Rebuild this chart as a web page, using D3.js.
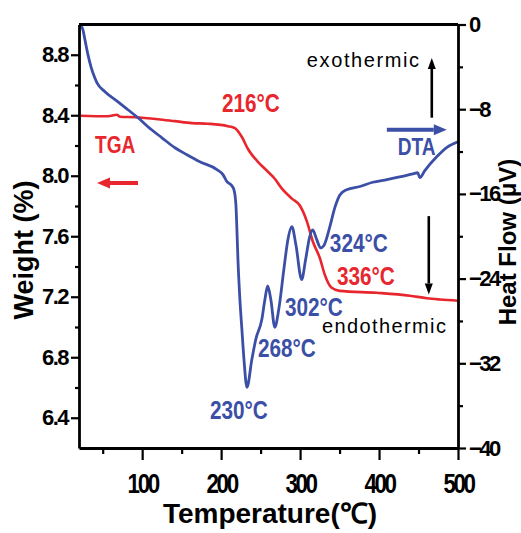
<!DOCTYPE html>
<html>
<head>
<meta charset="utf-8">
<script src="https://cdn.jsdelivr.net/npm/d3@7"></script>
<style>
  body { margin: 0; background: #fff; }
  svg { display: block; font-family: "Liberation Sans", Arial, sans-serif; }
</style>
</head>
<body>
<svg id="chart" width="521" height="533"></svg>
<script>
// TGA / DTA curves

const tgaTemp = [21, 56.7, 68, 72, 91, 120, 141.5, 163, 183, 208.6, 217.5, 226.3, 234, 246.6, 255.4,
  268, 277, 289.6, 299.7, 308.6, 316, 325, 331.4, 340, 350, 397, 439, 460.5, 477, 500];
const tgaWeight = [8.397, 8.393, 8.403, 8.39, 8.387, 8.374, 8.361, 8.348, 8.344, 8.328, 8.315, 8.256, 8.177, 8.092, 8.046,
  7.98, 7.915, 7.849, 7.803, 7.698, 7.567, 7.456, 7.344, 7.259, 7.239, 7.226, 7.207, 7.19, 7.182, 7.174];

const dtaTemp = [21.5, 25, 27.6, 31.4, 35.2, 39, 42.8, 52.9, 69.4, 82, 94.7, 107.3, 125, 141.5, 156.7,
  173, 194.7, 202.3, 207.3, 212.4, 216.2, 218.7, 220, 221.3, 223.8, 226.3, 228.9, 232.7, 239, 244,
  251.6, 255.4, 259, 263, 268, 273, 279.5, 284.6, 289.6, 294.7, 302, 307, 312, 316, 321,
  326, 330, 337.7, 344, 350.4, 359, 375.7, 392, 410, 426, 443, 449, 451.6, 458, 473, 486, 500];
const dtaHeat = [0, -0.5, -1.46, -2.87, -4.0, -4.85, -5.51, -6.36, -7.3, -8.05, -8.81, -9.66, -10.7, -11.64, -12.3,
  -12.96, -13.7, -14.18, -14.84, -15.13, -15.6, -17.0, -19.4, -22.2, -26, -28.8, -31.6, -34.26, -31.6, -29.7,
  -27.85, -26, -24.7, -26, -28.6, -26.9, -23.1, -20.3, -19.1, -20.8, -24.1, -22.2, -20.1, -19.4, -20.3,
  -21.1, -20.9, -19.1, -17.3, -16.1, -15.6, -15.3, -14.9, -14.65, -14.4, -14.1, -14.0, -14.47, -13.8, -12.5, -11.6, -11.07];

const tempTicks = [100, 200, 300, 400, 500];
const tempMinor = [50, 150, 250, 350, 450];
const weightTicks = [6.4, 6.8, 7.2, 7.6, 8.0, 8.4, 8.8];
const weightMinor = [6.6, 7.0, 7.4, 7.8, 8.2, 8.6];
const heatTicks = [-40, -32, -24, -16, -8, 0];
const heatMinor = [-36, -28, -20, -12, -4];

// peak labels: text, temperature / value where the label starts
const tgaLabels = [
  { text: "216", temp: 201, weight: 8.42 },
  { text: "336", temp: 346.6, weight: 7.278 }
];
const dtaLabels = [
  { text: "230", temp: 185.8, heat: -37.27 },
  { text: "268", temp: 246.6, heat: -31.4 },
  { text: "302", temp: 280.8, heat: -27.57 },
  { text: "324", temp: 337.7, heat: -21.5 }
];

const red = "#e8262d";
const blue = "#3c4fa6";

const margin = { top: 24.5, right: 63, bottom: 85, left: 79 };
const width = 521, height = 533;

const svg = d3.select("#chart");

const x = d3.scaleLinear().domain([20, 500]).range([margin.left, width - margin.right]);
const yW = d3.scaleLinear().domain([6.2, 9.0]).range([height - margin.bottom, margin.top]);
const yH = d3.scaleLinear().domain([-40, 0]).range([height - margin.bottom, margin.top]);

const bottomY = height - margin.bottom;
const rightX = width - margin.right;

// curves
const tga = tgaTemp.map((t, i) => [t, tgaWeight[i]]);
const dta = dtaTemp.map((t, i) => [t, dtaHeat[i]]);

svg.append("path")
  .datum(tga)
  .attr("fill", "none")
  .attr("stroke", red)
  .attr("stroke-width", 2.6)
  .attr("d", d3.line().x(d => x(d[0])).y(d => yW(d[1])).curve(d3.curveMonotoneX));

svg.append("path")
  .datum(dta)
  .attr("fill", "none")
  .attr("stroke", blue)
  .attr("stroke-width", 2.8)
  .attr("d", d3.line().x(d => x(d[0])).y(d => yH(d[1])).curve(d3.curveMonotoneX));

// axes
function styleAxis(g, fontSize) {
  g.select(".domain").attr("stroke-width", 2.8);
  g.selectAll(".tick line").attr("stroke-width", 2.2);
  g.selectAll(".tick text")
    .attr("font-size", fontSize)
    .attr("font-weight", "bold")
    .attr("fill", "#000");
}

function minor(g) {
  g.select(".domain").remove();
  g.selectAll(".tick line").attr("stroke-width", 2.2);
}

svg.append("g")
  .attr("transform", `translate(0,${bottomY})`)
  .call(d3.axisBottom(x).tickValues(tempMinor).tickSize(6).tickFormat(""))
  .call(minor);
svg.append("g")
  .attr("transform", `translate(${margin.left},0)`)
  .call(d3.axisLeft(yW).tickValues(weightMinor).tickSize(4).tickFormat(""))
  .call(minor);
svg.append("g")
  .attr("transform", `translate(${rightX},0)`)
  .call(d3.axisRight(yH).tickValues(heatMinor).tickSize(5).tickFormat(""))
  .call(minor);

svg.append("g")
  .attr("transform", `translate(0,${bottomY})`)
  .call(d3.axisBottom(x).tickValues(tempTicks).tickSize(12).tickSizeOuter(0).tickPadding(13).tickFormat(d3.format("d")))
  .call(g => styleAxis(g, 28))
  .call(g => g.selectAll(".tick text").attr("letter-spacing", -3).attr("transform", "scale(0.8,1)"));

svg.append("g")
  .attr("transform", `translate(${margin.left},0)`)
  .call(d3.axisLeft(yW).tickValues(weightTicks).tickSize(8).tickSizeOuter(0).tickPadding(3).tickFormat(d3.format(".1f")))
  .call(g => styleAxis(g, 22))
  .call(g => g.selectAll(".tick text").attr("letter-spacing", -1.5));

svg.append("g")
  .attr("transform", `translate(${rightX},0)`)
  .call(d3.axisRight(yH).tickValues(heatTicks).tickSize(8).tickSizeOuter(0).tickPadding(3).tickFormat(d3.format("d")))
  .call(g => styleAxis(g, 22))
  .call(g => g.selectAll(".tick text").attr("letter-spacing", -2.5));

// top frame
svg.append("line")
  .attr("x1", margin.left).attr("x2", rightX)
  .attr("y1", margin.top).attr("y2", margin.top)
  .attr("stroke", "#000").attr("stroke-width", 2.8);

// axis titles
svg.append("text")
  .attr("transform", `translate(33,250) rotate(-90)`)
  .attr("text-anchor", "middle")
  .attr("font-size", 27).attr("font-weight", "bold")
  .text("Weight (%)");

svg.append("text")
  .attr("transform", `translate(516,242) rotate(-90)`)
  .attr("text-anchor", "middle")
  .attr("font-size", 24).attr("font-weight", "bold")
  .text("Heat Flow (μV)");

svg.append("text")
  .attr("x", 270).attr("y", 523)
  .attr("text-anchor", "middle")
  .attr("font-size", 28).attr("font-weight", "bold")
  .text("Temperature(℃)");

// annotations
function tag(px, py, txt, color, size) {
  return svg.append("text")
    .attr("transform", `translate(${px},${py}) scale(0.83,1)`)
    .attr("font-size", size).attr("font-weight", "bold")
    .attr("fill", color)
    .text(txt);
}

tgaLabels.forEach(d => tag(x(d.temp), yW(d.weight), d.text + "°C", red, 25));
dtaLabels.forEach(d => tag(x(d.temp), yH(d.heat), d.text + "°C", blue, 25));

tag(x(40.3), yW(8.15), "TGA", red, 23);
tag(x(423.8), yH(-12.3), "DTA", blue, 23);

function arrow(x1, y1, x2, y2, color, w, head, headW) {
  const ang = Math.atan2(y2 - y1, x2 - x1);
  const bx = x2 - head * Math.cos(ang), by = y2 - head * Math.sin(ang);
  svg.append("line")
    .attr("x1", x1).attr("y1", y1).attr("x2", bx).attr("y2", by)
    .attr("stroke", color).attr("stroke-width", w);
  const px = -Math.sin(ang) * headW / 2, py = Math.cos(ang) * headW / 2;
  svg.append("path")
    .attr("d", `M${x2},${y2}L${bx + px},${by + py}L${bx - px},${by - py}Z`)
    .attr("fill", color);
}

arrow(x(94.7), yW(7.952), x(42.8), yW(7.952), red, 4, 13, 11);
arrow(x(409.9), yH(-9.94), x(485.8), yH(-9.94), blue, 4, 13, 11);
arrow(x(466.8), yH(-8.8), x(466.8), yH(-3.16), "#000", 2.6, 11, 8);
arrow(x(463), yH(-18.1), x(463), yH(-25.5), "#000", 2.6, 11, 8);

svg.append("text")
  .attr("x", x(308.6)).attr("y", yH(-4.0))
  .attr("font-size", 20).attr("letter-spacing", 1.6)
  .text("exothermic");

svg.append("text")
  .attr("x", x(327.6)).attr("y", yH(-29.1))
  .attr("font-size", 20).attr("letter-spacing", 1.4)
  .text("endothermic");
</script>
</body>
</html>
